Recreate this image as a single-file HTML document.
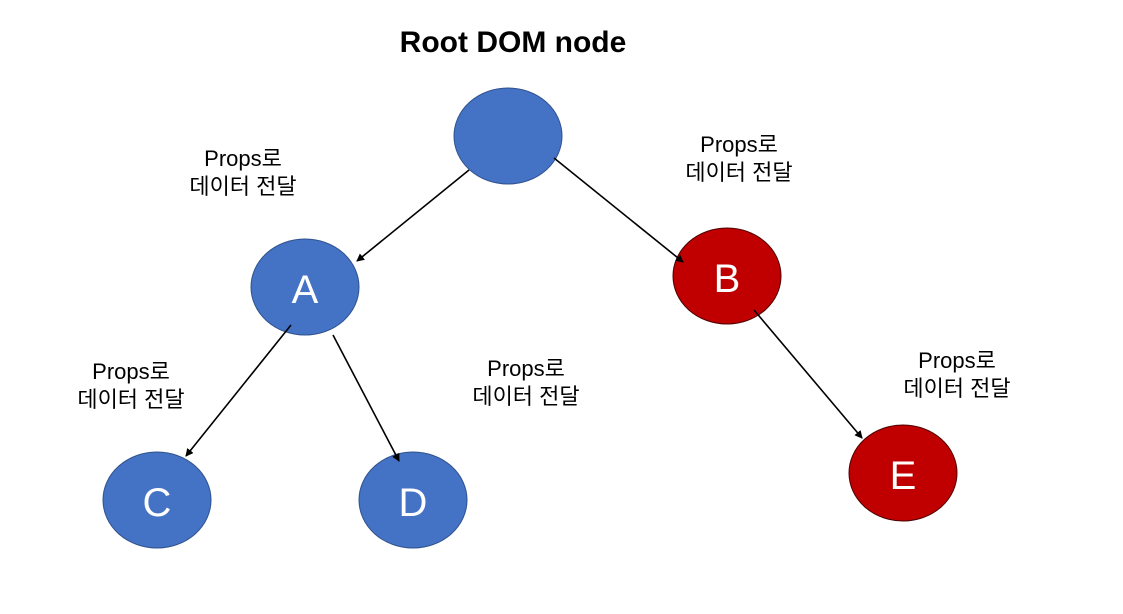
<!DOCTYPE html>
<html><head><meta charset="utf-8"><style>
html,body{margin:0;padding:0;background:#fff;}
svg{display:block;}
text{font-family:"Liberation Sans","Noto Sans CJK KR",sans-serif;}
</style></head><body>
<svg width="1123" height="614" viewBox="0 0 1123 614" xmlns="http://www.w3.org/2000/svg">
<defs><marker id="ah" markerWidth="8" markerHeight="8" refX="7" refY="4" orient="auto" markerUnits="userSpaceOnUse"><path d="M0,0 L8,4 L0,8 Z" fill="#000"/></marker></defs>
<text x="513" y="52" font-size="30" font-weight="bold" text-anchor="middle" fill="#000">Root DOM node</text>
<g stroke="#2f528f" stroke-width="1">
<ellipse cx="508" cy="136" rx="54" ry="48" fill="#4472c4"/>
<ellipse cx="305" cy="287" rx="54" ry="48" fill="#4472c4"/>
<ellipse cx="157" cy="500" rx="54" ry="48" fill="#4472c4"/>
<ellipse cx="413" cy="500" rx="54" ry="48" fill="#4472c4"/>
</g>
<g stroke="#4d0000" stroke-width="1">
<ellipse cx="727" cy="276" rx="54" ry="48" fill="#c00000"/>
<ellipse cx="903" cy="473" rx="54" ry="48" fill="#c00000"/>
</g>
<g fill="#fff" font-size="40" text-anchor="middle">
<text x="305" y="303">A</text>
<text x="727" y="292">B</text>
<text x="157" y="516">C</text>
<text x="413" y="516">D</text>
<text x="903" y="489">E</text>
</g>
<g stroke="#000" stroke-width="1.6" marker-end="url(#ah)">
<line x1="469" y1="170" x2="357" y2="261"/>
<line x1="554" y1="158" x2="683" y2="262"/>
<line x1="291" y1="325" x2="186" y2="456"/>
<line x1="333" y1="335" x2="399" y2="461"/>
<line x1="754" y1="310" x2="862" y2="438"/>
</g>
<g font-size="22" text-anchor="middle" fill="#000">
<text x="243" y="166">Props로</text><text x="243" y="194">데이터 전달</text>
<text x="739" y="152">Props로</text><text x="739" y="180">데이터 전달</text>
<text x="131" y="379">Props로</text><text x="131" y="407">데이터 전달</text>
<text x="526" y="376">Props로</text><text x="526" y="404">데이터 전달</text>
<text x="957" y="368">Props로</text><text x="957" y="396">데이터 전달</text>
</g>
</svg>
</body></html>
